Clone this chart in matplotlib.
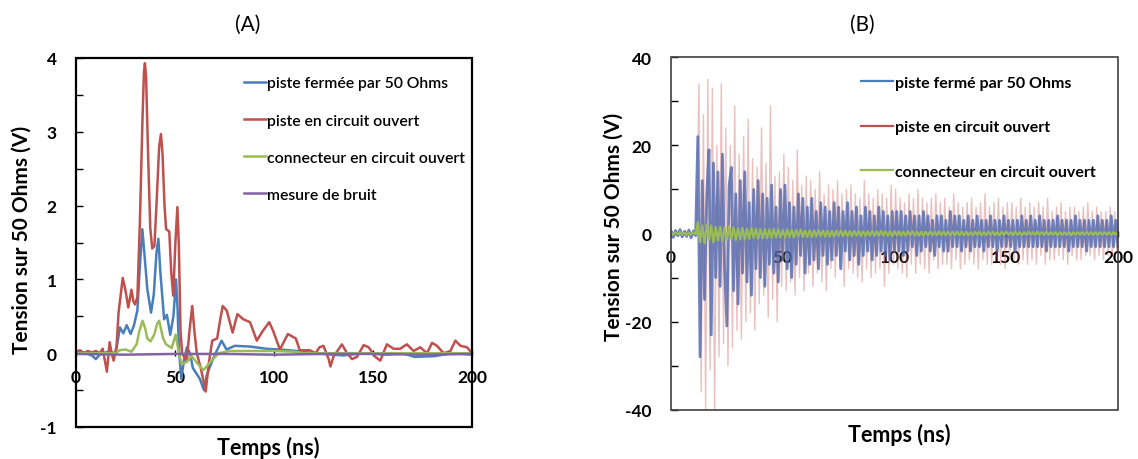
import numpy as np
import matplotlib.pyplot as plt
from matplotlib.patches import Rectangle

plt.rcParams['font.family'] = ['Lato', 'DejaVu Sans']
plt.rcParams['axes.unicode_minus'] = False

# ---- panel A : impulse response (V) ----
red_t = [0, 2, 4, 6, 8, 10, 12, 13.5, 15.6, 17, 18, 19, 20.5, 21.5, 23.6, 25, 26.4, 28, 29,
         29.8, 31, 32.3, 33.5, 34.3, 34.8, 35.4, 36.4, 37.5, 38.5, 39.6, 40.8, 42, 42.9,
         43.7, 44.7, 45.5, 47.1, 48.1, 49.1, 50.2, 51.2, 51.9, 52.8, 53.6, 55.9, 57.3, 58.7,
         59.8, 61, 63, 65.5, 67, 68.8, 71.3, 72.8, 74.1, 76.1, 79.1, 81.5, 84.5, 87.9, 91.3,
         94.3, 97.6, 99.6, 103, 107, 111, 113, 118, 121, 123, 125, 127.6, 128.5, 130, 134.3,
         136.9, 139.4, 141.9, 145.3, 147.8, 151.2, 153.7, 157, 160.4, 163.7, 167.1, 170.5,
         173.9, 177.3, 179.8, 182.3, 185.7, 189.1, 191.6, 194.2, 197.5, 200]
red_v = [0.02, 0.04, 0.0, 0.03, 0.01, 0.03, 0.0, 0.06, -0.25, 0.15, 0.0, -0.1, 0.1, 0.55,
         1.02, 0.85, 0.62, 0.86, 0.7, 0.66, 0.76, 1.8, 3.1, 3.8, 3.93, 3.75, 2.7, 1.7, 1.42,
         1.45, 2.1, 2.8, 2.97, 2.7, 2.0, 1.68, 1.65, 1.1, 0.78, 1.5, 1.98, 1.5, 0.3, 0.0,
         -0.12, 0.3, 0.64, 0.3, 0.0, -0.2, -0.52, -0.15, 0.17, 0.2, 0.45, 0.64, 0.58, 0.28,
         0.53, 0.46, 0.42, 0.17, 0.3, 0.42, 0.3, 0.05, 0.26, 0.2, 0.04, 0.04, 0.0, 0.08, 0.1,
         -0.08, -0.18, -0.05, 0.12, 0.0, -0.08, -0.05, 0.11, 0.08, -0.05, -0.1, 0.12, 0.06,
         0.06, 0.12, 0.03, 0.08, 0.0, 0.14, 0.1, 0.0, 0.03, 0.17, 0.1, 0.08, 0.0]

blue_t = [0, 4, 8, 10, 12, 16, 20, 21, 22.2, 23.9, 25.6, 27.6, 29.3, 31, 32.3, 33.5, 34.7,
          36, 37.9, 39.3, 40.6, 41.6, 42.6, 44.5, 45.9, 47.6, 49.2, 50.5, 51.3, 52, 53.2,
          54.5, 56, 57.6, 59, 62.6, 64.6, 66, 69.3, 73.5, 76, 80.2, 87.9, 96.3, 103, 111.5,
          120, 135, 145, 157, 165, 171, 181, 190, 200]
blue_v = [0.0, 0.01, -0.03, -0.08, -0.02, 0.02, 0.0, 0.15, 0.35, 0.27, 0.38, 0.26, 0.38,
          0.58, 1.2, 1.68, 1.3, 0.87, 0.55, 0.8, 1.35, 1.55, 1.1, 0.46, 0.52, 0.25, 0.5, 1.0,
          0.6, 0.05, -0.35, -0.1, 0.08, 0.0, -0.2, -0.35, -0.5, -0.3, -0.07, 0.17, 0.05, 0.1,
          0.09, 0.06, 0.05, 0.03, 0.0, -0.03, 0.0, -0.02, 0.0, -0.05, -0.04, 0.0, -0.02]

green_t = [0, 10, 20, 22, 25, 28, 30.6, 32, 33.6, 35, 36, 37.6, 39.5, 41, 42, 43, 44, 45.5,
           48.3, 50.3, 52, 53.4, 55, 56.6, 58.4, 61.7, 64.3, 68.5, 72, 77.8, 90, 100, 110,
           115, 140, 160, 180, 200]
green_v = [0.0, 0.0, 0.0, 0.04, 0.05, 0.02, 0.12, 0.3, 0.44, 0.33, 0.2, 0.16, 0.25, 0.4,
           0.44, 0.32, 0.2, 0.12, 0.07, 0.25, 0.0, -0.15, -0.13, -0.1, -0.04, -0.15, -0.23,
           -0.1, 0.0, 0.03, 0.03, 0.03, 0.02, 0.0, 0.0, 0.0, 0.0, 0.0]

noise_t = [0, 25, 50, 75, 100, 125, 150, 175, 200]
noise_v = [-0.01, -0.02, -0.01, -0.01, -0.02, -0.01, -0.01, -0.02, -0.01]

# ---- panel B : 1 ns samples (V) ----
blue_b = [0.6, -0.9, 0.7, -0.5, 0.9, -0.8, 0.5, -0.7, 0.8, -1.0, 0.6, -0.5,
          22, -28, 12, -15, 9, 19, -23, 16, -10, 14,
          -12, 18, -8, -21, 11, 15, -13, 9, -16, 12,
          -9, 14, -11, 7, -14, 10, -8, 12, -10, 9,
          -12, 8, -7, 11, -9, 6, -11, 10, -6, 11,
          -8, 7, -10, 6, -7, 9, -5, 8, -9, 6,
          -7, 8, -6, 5, -8, 7, -5, 6, -7, 5,
          -6, 7, -5, 6, -8, 5, -4, 7, -6, 5,
          -5, 6, -7, 4, -5, 6, -4, 5, -6, 4,
          -5, 6, -4, 5, -5, 4, -6, 5, -4, 5,
          -4, 5, -5, 4, -4, 5, -3, 4, -5, 4,
          -4, 5, -3, 4, -4, 3, -5, 4, -3, 4,
          -4, 3, -4, 5, -3, 4, -3, 4, -4, 3,
          -3, 4, -4, 3, -3, 4, -3, 3, -4, 3,
          -3, 4, -3, 3, -4, 3, -3, 4, -3, 3,
          -3, 3, -4, 3, -3, 4, -3, 3, -3, 4,
          -3, 3, -3, 4, -3, 3, -4, 3, -3, 3,
          -3, 4, -3, 3, -3, 3, -4, 3, -3, 4,
          -3, 3, -3, 3, -4, 3, -3, 3, -3, 4,
          -3, 3, -3, 3, -3, 4, -3, 3, -3]

red_b = [0.5, -0.6, 0.4, -0.7, 0.6, -0.5, 0.7, -0.4, 0.5, -0.6, 0.4, -0.5,
         34, -36, 27, -40, 35, -31, 33, -40, 20, -28,
         34, -25, 24, -30, 20, -26, 29, -22, 18, -24,
         22, -20, 26, -18, 17, -22, 15, -16, 24, -14,
         16, -19, 29, -15, 13, -20, 14, -12, 18, -13,
         15, -11, 12, -14, 19, -10, 11, -13, 13, -9,
         12, -12, 10, -9, 14, -11, 9, -13, 11, -8,
         10, -10, 12, -8, 9, -12, 10, -8, 11, -9,
         9, -10, 8, -11, 12, -8, 9, -10, 8, -9,
         10, -8, 9, -12, 8, -9, 11, -7, 10, -8,
         8, -9, 7, -10, 9, -7, 8, -9, 10, -7,
         8, -8, 7, -9, 8, -6, 9, -8, 7, -7,
         8, -7, 6, -8, 9, -6, 7, -8, 6, -7,
         7, -6, 8, -7, 6, -8, 7, -6, 9, -7,
         6, -7, 7, -6, 8, -7, 6, -8, 7, -6,
         7, -6, 6, -7, 8, -6, 6, -7, 7, -6,
         6, -7, 7, -5, 6, -7, 8, -6, 5, -6,
         6, -5, 7, -6, 5, -7, 6, -5, 6, -6,
         5, -6, 6, -5, 7, -5, 5, -6, 6, -5,
         5, -6, 5, -5, 6, -5, 5, -4]

green_b = [0.2, -0.3, 0.2, -0.2, 0.3, -0.2, 0.2, -0.3, 0.2, -0.2, 0.3, -0.2,
           2.5, -2.0, 1.8, -2.2, 2.0, -1.5, 1.8, -2.0, 1.5, -1.6,
           1.5, -1.8, 1.4, -1.5, 1.6, -1.2, 1.4, -1.5, 1.2, -1.3,
           1.2, -1.4, 1.1, -1.2, 1.3, -1.0, 1.1, -1.2, 1.0, -1.1,
           1.0, -1.1, 0.9, -1.0, 1.1, -0.9, 1.0, -0.9, 0.8, -1.0,
           0.9, -0.8, 0.8, -0.9, 0.8, -0.7, 0.9, -0.8, 0.7, -0.8,
           0.7, -0.8, 0.7, -0.7, 0.8, -0.6, 0.7, -0.7, 0.6, -0.7,
           0.6, -0.7, 0.6, -0.6, 0.7, -0.6, 0.6, -0.6, 0.5, -0.6,
           0.6, -0.5, 0.6, -0.6, 0.5, -0.6, 0.5, -0.5, 0.6, -0.5,
           0.5, -0.5, 0.6, -0.5, 0.5, -0.5, 0.5, -0.6, 0.5, -0.5,
           0.5, -0.5, 0.4, -0.5, 0.5, -0.4, 0.5, -0.5, 0.4, -0.5,
           0.4, -0.5, 0.4, -0.4, 0.5, -0.4, 0.4, -0.4, 0.5, -0.4,
           0.4, -0.4, 0.4, -0.4, 0.4, -0.4, 0.4, -0.4, 0.4, -0.4,
           0.4, -0.4, 0.3, -0.4, 0.4, -0.3, 0.4, -0.4, 0.3, -0.4,
           0.4, -0.3, 0.4, -0.4, 0.3, -0.4, 0.4, -0.3, 0.4, -0.3,
           0.3, -0.4, 0.4, -0.3, 0.3, -0.4, 0.3, -0.3, 0.4, -0.3,
           0.3, -0.3, 0.4, -0.3, 0.3, -0.3, 0.4, -0.3, 0.3, -0.3,
           0.3, -0.4, 0.3, -0.3, 0.3, -0.3, 0.3, -0.4, 0.3, -0.3,
           0.3, -0.3, 0.3, -0.3, 0.4, -0.3, 0.3, -0.3, 0.3, -0.3,
           0.3, -0.3, 0.3, -0.3, 0.3, -0.3, 0.3, -0.3, 0.3]

t_b = np.arange(len(blue_b))
t_red_b = np.arange(len(red_b)) + 0.5
t_green_b = np.arange(len(green_b))

BLUE, RED, GREEN, PURPLE = '#4a7ebb', '#c0504d', '#9bbb59', '#8064a2'

W, H = 1138, 460
fig = plt.figure(figsize=(W / 100, H / 100), dpi=100)
axA = fig.add_axes([76 / W, 1 - 428 / H, 396 / W, 369 / H])
axB = fig.add_axes([671 / W, 1 - 410.7 / H, 447 / W, 352.4 / H])


def style(ax, ylim, major, minor, frame_lw, frame_col):
    for s in ax.spines.values():
        s.set_visible(False)
    ax.spines['bottom'].set_position(('data', 0))
    ax.add_patch(Rectangle((0, 0), 1, 1, transform=ax.transAxes, fill=False,
                           lw=frame_lw, ec=frame_col, clip_on=False, zorder=5))
    ax.set_xlim(0, 200)
    ax.set_ylim(*ylim)
    ax.set_xticks([0, 50, 100, 150, 200])
    ax.set_yticks(major)
    ax.set_yticks(minor, minor=True)
    ax.tick_params(axis='x', direction='inout', length=5, width=1, pad=9,
                   labelsize=12.5)
    ax.tick_params(axis='y', which='both', direction='in', length=5, width=1,
                   pad=14, labelsize=12.5)
    for lab in ax.get_xticklabels() + ax.get_yticklabels():
        lab.set_fontweight('bold')


# panel A
axA.plot(blue_t, blue_v, color=BLUE, lw=1.8, label='piste fermée par 50 Ohms')
axA.plot(red_t, red_v, color=RED, lw=1.8, label='piste en circuit ouvert')
axA.plot(green_t, green_v, color=GREEN, lw=1.8, label='connecteur en circuit ouvert')
axA.plot(noise_t, noise_v, color=PURPLE, lw=1.8, label='mesure de bruit')
style(axA, (-1, 4), [-1, 0, 1, 2, 3, 4], np.arange(-1, 4.01, 0.5), 1.6, 'black')
axA.legend(loc='upper left', bbox_to_anchor=(0.424, 0.95), frameon=False,
           handlelength=1.4, handletextpad=0.1, labelspacing=1.47, borderpad=0,
           borderaxespad=0, prop={'size': 11.3, 'weight': 'semibold'})

# panel B
axB.plot(t_red_b, red_b, color=RED, lw=1.0, alpha=0.35, label='piste en circuit ouvert')
axB.plot(t_b, blue_b, color='#4f66ad', lw=2.0, alpha=0.8, label='piste fermé par 50 Ohms')
axB.plot(t_green_b, green_b, color=GREEN, lw=1.6, label='connecteur en circuit ouvert')
style(axB, (-40, 40), [-40, -20, 0, 20, 40], np.arange(-40, 41, 10), 1.2, '#404040')
h, l = axB.get_legend_handles_labels()
hb = [plt.Line2D([], [], color=BLUE, lw=1.6), plt.Line2D([], [], color=RED, lw=1.6),
      plt.Line2D([], [], color=GREEN, lw=1.6)]
axB.legend(hb, [l[1], l[0], l[2]], loc='upper left', bbox_to_anchor=(0.426, 0.9475),
           frameon=False, handlelength=2.0, handletextpad=0.1, labelspacing=1.89,
           borderpad=0, borderaxespad=0, prop={'size': 11.5, 'weight': 'bold'})

for ax, xl, yl, xlx, xly in [(axA, -0.113, 0.51, 0.485, -0.024),
                             (axB, -0.107, 0.522, 0.511, -0.038)]:
    ax.set_ylabel('Tension sur 50 Ohms (V)', fontsize=15, fontweight='bold')
    ax.set_xlabel('Temps (ns)', fontsize=15.5, fontweight='bold')
    ax.yaxis.set_label_coords(xl, yl)
    ax.xaxis.set_label_coords(xlx, xly)

fig.text(248 / W, 1 - 25 / H, '(A)', fontsize=15, ha='center', va='center')
fig.text(862 / W, 1 - 25 / H, '(B)', fontsize=15, ha='center', va='center')

fig.savefig('out.png', dpi=100, facecolor='white')
